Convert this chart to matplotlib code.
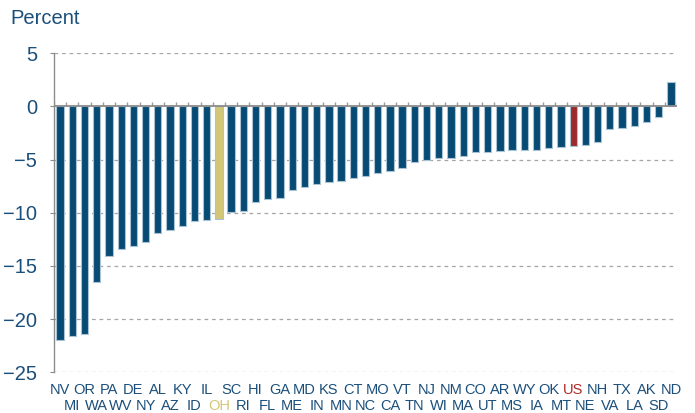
import numpy as np
import matplotlib
matplotlib.use('Agg')
import matplotlib.pyplot as plt

plt.rcParams['font.family'] = ['Liberation Sans', 'DejaVu Sans']

# state codes, sorted from largest decline to largest gain
states = ['NV', 'MI', 'OR', 'WA', 'PA', 'WV', 'DE', 'NY', 'AL', 'AZ',
          'KY', 'ID', 'IL', 'OH', 'SC', 'RI', 'HI', 'FL', 'GA', 'ME',
          'MD', 'IN', 'KS', 'MN', 'CT', 'NC', 'MO', 'CA', 'VT', 'TN',
          'NJ', 'WI', 'NM', 'MA', 'CO', 'UT', 'AR', 'MS', 'WY', 'IA',
          'OK', 'MT', 'US', 'NE', 'NH', 'VA', 'TX', 'LA', 'AK', 'SD', 'ND']
# percent change
pct = [-22.0, -21.6, -21.4, -16.5, -14.1, -13.4, -13.1, -12.7, -11.9, -11.6,
       -11.2, -10.8, -10.7, -10.6, -9.9, -9.8, -9.0, -8.7, -8.6, -7.9,
       -7.6, -7.3, -7.1, -7.0, -6.7, -6.5, -6.3, -6.1, -5.8, -5.2,
       -5.0, -4.8, -4.8, -4.7, -4.3, -4.3, -4.2, -4.1, -4.1, -4.1,
       -3.9, -3.8, -3.7, -3.6, -3.3, -2.1, -2.0, -1.8, -1.5, -1.0, 2.3]
highlight = {'OH': '#d3c776', 'US': '#9c2a2a'}
label_hl = {'OH': '#d3c776', 'US': '#b02a2a'}

BLUE = '#074b74'
TXT = '#1b4f7b'
GRAY = '#8c8c8c'

fig = plt.figure(figsize=(6.95, 4.13), dpi=100)
ax = fig.add_axes([54/695, (413-372.3)/413, 623/695, 319/413])

x = np.arange(len(states))
colors = [highlight.get(s, BLUE) for s in states]
ax.bar(x, pct, width=0.6, color=colors, edgecolor='#a9c3d5', linewidth=0.8, zorder=3)

ax.set_xlim(-0.5, len(states) - 0.5)
ax.set_ylim(-25, 5)
ax.set_yticks([5, 0, -5, -10, -15, -20, -25])
for y in [5, -5, -10, -15, -20, -25]:
    ax.axhline(y, color='#a6a6a6', lw=0.9, ls=(0, (3, 3)), zorder=1)
ax.axhline(0, color=GRAY, lw=1.3, zorder=4)
# category boundary ticks on the zero line
ax.vlines(np.arange(len(states) + 1) - 0.5, 0, 0.45, color='#9a9a9a', lw=1.0, zorder=2)

# staggered labels: even positions on the upper row, odd on the lower row
ax.set_xticks(x[::2])
ax.set_xticklabels(states[::2], fontsize=10.5, color=TXT)
ax.set_xticks(x[1::2], minor=True)
ax.set_xticklabels(states[1::2], minor=True, fontsize=10.5, color=TXT)
for lab in ax.get_xticklabels() + ax.get_xticklabels(minor=True):
    if lab.get_text() in label_hl:
        lab.set_color(label_hl[lab.get_text()])
ax.tick_params(axis='x', which='major', length=0, pad=7.5)
ax.tick_params(axis='x', which='minor', length=0, pad=19)
ax.tick_params(axis='y', length=3, color=GRAY, labelsize=14.5, labelcolor=TXT, pad=9)

for sp in ['top', 'right', 'bottom']:
    ax.spines[sp].set_visible(False)
ax.spines['left'].set_color(GRAY)
ax.spines['left'].set_linewidth(1.0)

fig.text(10/695, 1 - 19/413, 'Percent', fontsize=14.5, color=TXT, va='center', ha='left')

fig.savefig('out.png', dpi=100)
